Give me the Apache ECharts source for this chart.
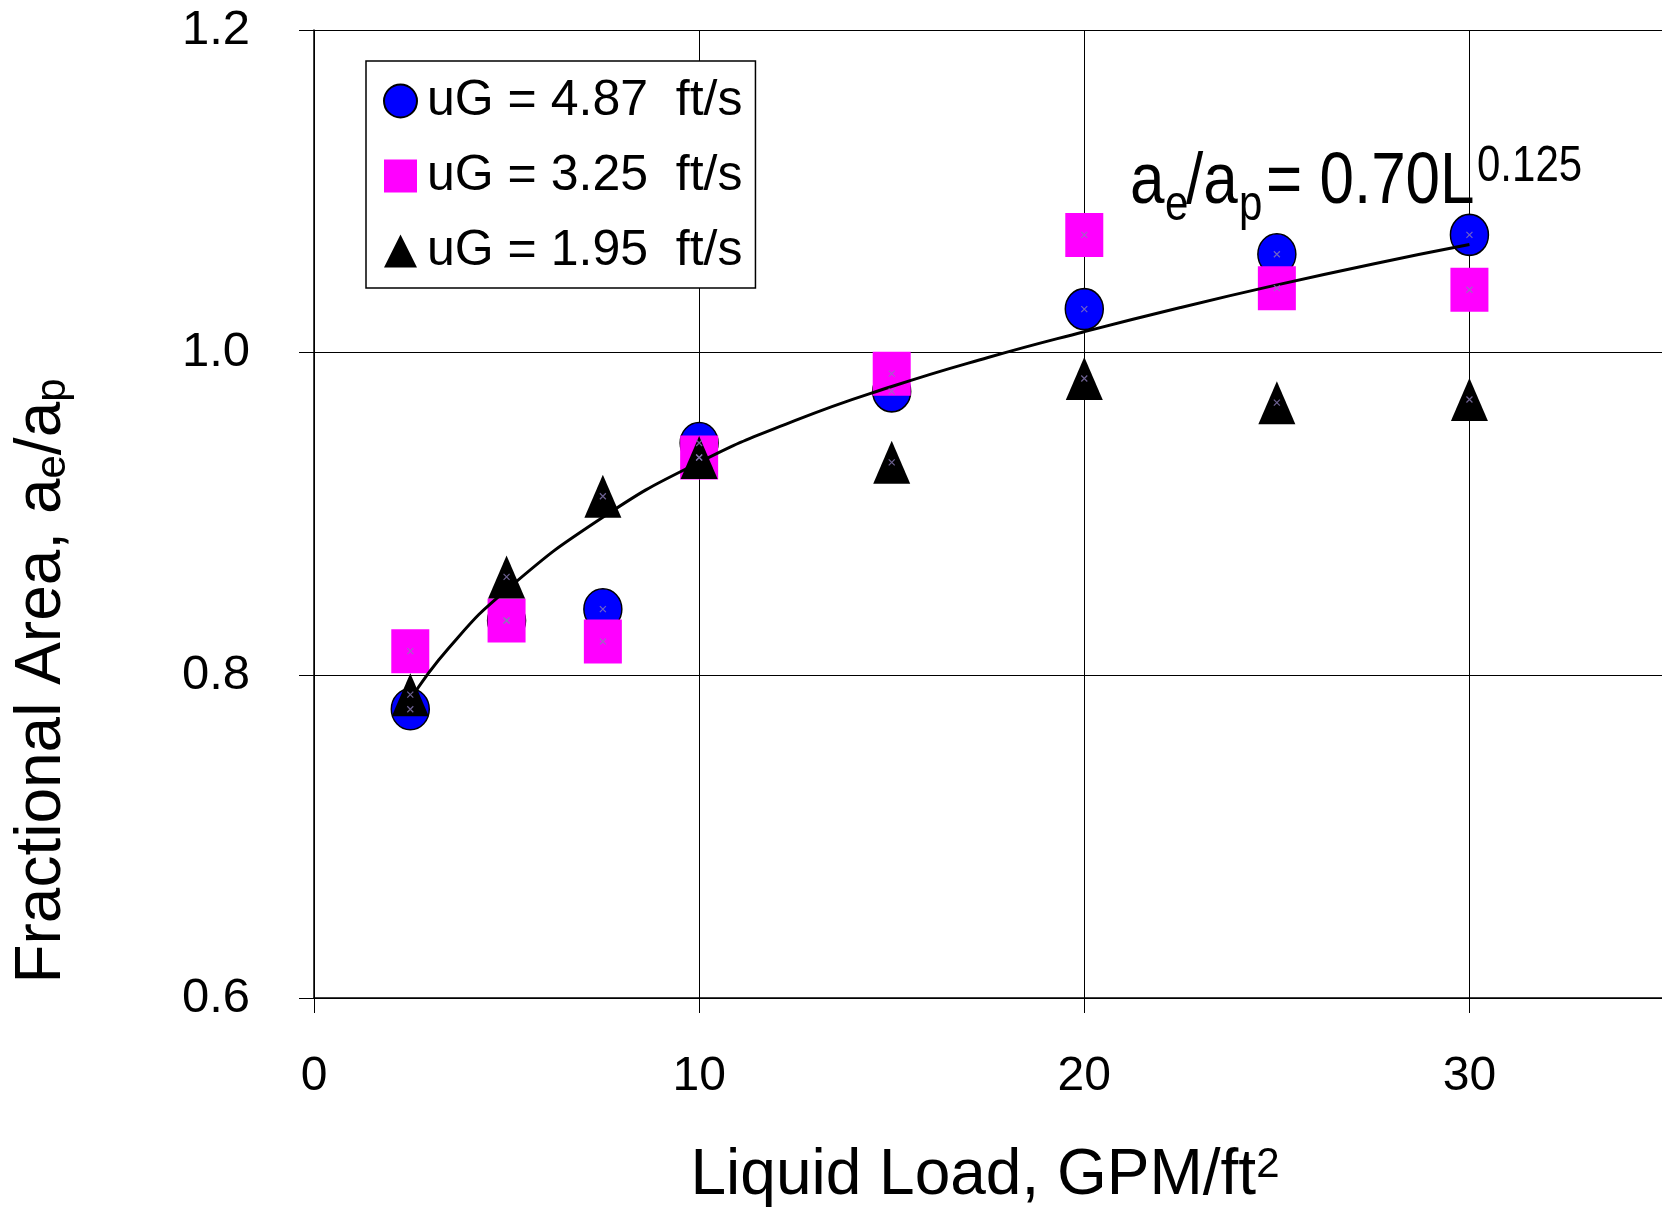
<!DOCTYPE html>
<html>
<head>
<meta charset="utf-8">
<script src="https://cdn.jsdelivr.net/npm/echarts@6/dist/echarts.min.js"></script>
<style>
  html, body { margin: 0; padding: 0; background: #fff; }
  #chart { width: 1662px; height: 1213px; }
</style>
</head>
<body>
<div id="chart"></div>
<script>
const FONT = '"Liberation Sans", Arial, sans-serif'

// liquid load, GPM/ft2
const liquidLoad = [2.5, 5, 7.5, 10, 15, 20, 25, 30]

// fractional area a_e/a_p for each gas velocity
const area487 = [0.779, 0.834, 0.841, 0.944, 0.976, 1.027, 1.061, 1.073]
const area325 = [0.815, 0.834, 0.821, 0.935, 0.987, 1.073, 1.040, 1.039]
const area195 = [0.788, 0.861, 0.911, 0.935, 0.932, 0.984, 0.969, 0.971]

// correlation curve
const fitX = [2.5, 3.5, 5, 7.5, 10, 12.5, 15, 17.5, 20, 22.5, 25, 27.5, 30]
const fitY = [0.785, 0.817, 0.853, 0.898, 0.932, 0.958, 0.979, 0.997, 1.013, 1.028, 1.042, 1.055, 1.067]

const seriesNames = ['uG = 4.87  ft/s', 'uG = 3.25  ft/s', 'uG = 1.95  ft/s']
const xTicks = [0, 10, 20, 30]
const yTicks = [0.6, 0.8, 1.0, 1.2]

const pairs = (xs, ys) => xs.map((x, i) => [x, ys[i]])

const chart = echarts.init(document.getElementById('chart'))

// the small grey-purple "x" drawn at every data point
const crossMark = (data) => ({
  type: 'scatter',
  data: data,
  symbol: 'path://M0,0L10,10M10,0L0,10',
  symbolSize: 6,
  silent: true,
  z: 5,
  itemStyle: { color: 'transparent', borderColor: '#8a7ab8', borderWidth: 1.2 }
})

const txt = (x, y, text, size) => ({
  type: 'text', x: x, y: y,
  style: { text: text, fontSize: size, fontFamily: FONT, fill: '#000', verticalAlign: 'middle' }
})

const option = {
  backgroundColor: '#fff',
  animation: false,
  textStyle: { fontFamily: FONT },

  grid: { left: 314, right: 0, top: 30, bottom: 215, containLabel: false, outerBoundsMode: 'none' },

  legend: {
    data: seriesNames,
    orient: 'vertical',
    left: 366,
    top: 61,
    padding: [15, 13, 12, 17],
    itemWidth: 33,
    itemHeight: 33,
    itemGap: 25,
    borderColor: '#000',
    borderWidth: 1.5,
    backgroundColor: '#fff',
    borderRadius: 0,
    textStyle: { fontSize: 50, color: '#000', fontFamily: FONT, padding: [0, 0, 0, 5] }
  },

  xAxis: {
    type: 'value',
    min: 0,
    max: 35,
    interval: 10,
    axisLine: { onZero: false, lineStyle: { color: '#000', width: 1.5 } },
    axisTick: { show: true, inside: false, length: 15, lineStyle: { color: '#000', width: 1 } },
    axisLabel: {
      fontSize: 48,
      color: '#000',
      margin: 55,
      formatter: v => xTicks.indexOf(v) >= 0 ? String(v) : ''
    },
    splitLine: { show: true, lineStyle: { color: '#000', width: 1 } }
  },

  yAxis: {
    type: 'value',
    min: 0.6,
    max: 1.2,
    interval: 0.2,
    axisLine: { onZero: false, lineStyle: { color: '#000', width: 1.5 } },
    axisTick: { show: true, inside: false, length: 15, lineStyle: { color: '#000', width: 1 } },
    axisLabel: {
      fontSize: 49,
      color: '#000',
      margin: 64,
      formatter: v => {
        const t = yTicks.find(k => Math.abs(k - v) < 1e-6)
        return t === undefined ? '' : t.toFixed(1)
      }
    },
    splitLine: { show: true, lineStyle: { color: '#000', width: 1 } }
  },

  series: [
    {
      name: seriesNames[0],
      type: 'scatter',
      data: pairs(liquidLoad, area487),
      symbol: 'circle',
      symbolSize: [38, 41],
      itemStyle: { color: '#0000ff', borderColor: '#000', borderWidth: 1.5, opacity: 1 }
    },
    {
      name: seriesNames[1],
      type: 'scatter',
      data: pairs(liquidLoad, area325),
      symbol: 'rect',
      symbolSize: [38, 44],
      itemStyle: { color: '#ff00ff', opacity: 1 }
    },
    {
      name: 'fit',
      type: 'line',
      data: pairs(fitX, fitY),
      smooth: true,
      showSymbol: false,
      symbol: 'none',
      silent: true,
      lineStyle: { color: '#000', width: 3 }
    },
    {
      name: seriesNames[2],
      type: 'scatter',
      data: pairs(liquidLoad, area195),
      symbol: 'triangle',
      symbolSize: [37, 43],
      itemStyle: { color: '#000', opacity: 1 }
    },
    crossMark(pairs(liquidLoad, area487)),
    crossMark(pairs(liquidLoad, area325)),
    crossMark(pairs(liquidLoad, area195))
  ],

  graphic: [
    {
      type: 'text',
      x: 42,
      y: 681,
      rotation: Math.PI / 2,
      style: {
        text: 'Fractional Area, a{s|e}/a{s|p}',
        fontSize: 64,
        fontFamily: FONT,
        fill: '#000',
        align: 'center',
        verticalAlign: 'middle',
        rich: { s: { fontSize: 42, lineHeight: 24, verticalAlign: 'bottom', fontFamily: FONT, fill: '#000' } }
      }
    },
    {
      type: 'text',
      x: 985,
      y: 1176,
      style: {
        text: 'Liquid Load, GPM/ft{t|2}',
        fontSize: 64,
        fontFamily: FONT,
        fill: '#000',
        align: 'center',
        verticalAlign: 'middle',
        rich: { t: { fontSize: 42, lineHeight: 34, verticalAlign: 'top', fontFamily: FONT, fill: '#000' } }
      }
    },
    {
      // correlation label, a_e/a_p = 0.70 L^0.125
      type: 'group',
      x: 0,
      y: 208,
      scaleY: 1.18,
      children: [
        txt(1130, -21.7, 'a', 62),
        txt(1165, -1.7, 'e', 42),
        txt(1186, -21.7, '/a', 62),
        txt(1239, -1.7, 'p', 42),
        txt(1266, -21.7, '= 0.70L', 62),
        txt(1477, -34.5, '0.125', 42)
      ]
    }
  ]
}

chart.setOption(option)
</script>
</body>
</html>
